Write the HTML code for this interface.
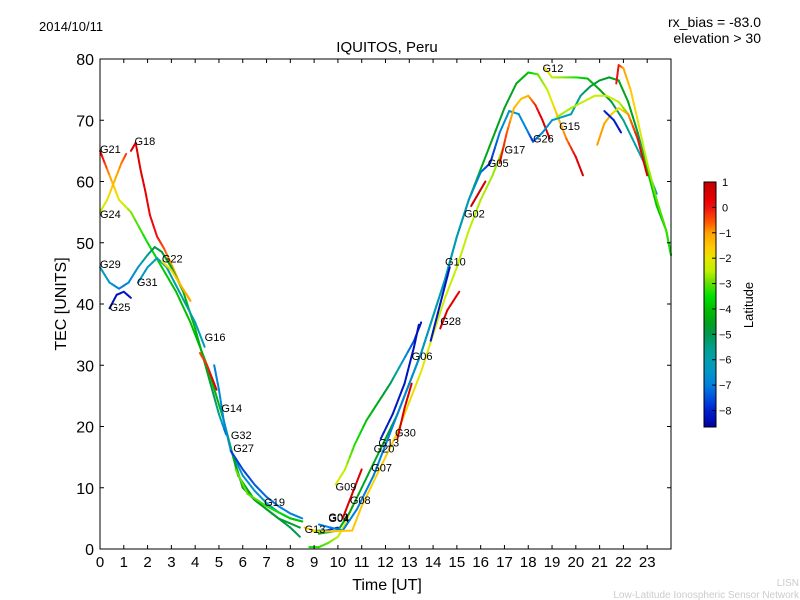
<!DOCTYPE html>
<html><head><meta charset="utf-8"><style>
body{margin:0;background:#fff;}
svg{display:block;font-family:"Liberation Sans","DejaVu Sans",sans-serif;}
</style></head><body>
<svg id="chart" width="800" height="600" viewBox="0 0 800 600" xmlns="http://www.w3.org/2000/svg">
<rect width="800" height="600" fill="#fff"/>
<text x="39" y="31" font-size="13">2014/10/11</text>
<text x="761" y="27" font-size="14" text-anchor="end">rx_bias = -83.0</text>
<text x="761" y="43" font-size="14" text-anchor="end">elevation &gt; 30</text>
<text x="387" y="52" font-size="15" text-anchor="middle">IQUITOS, Peru</text>
<g id="tracks"></g>
<g id="labels"></g>
<rect x="100" y="59" width="571" height="490" fill="none" stroke="#000" stroke-width="1"/>
<g id="axes"></g>
<text x="387" y="590" font-size="16" text-anchor="middle">Time [UT]</text>
<text transform="translate(66,304) rotate(-90)" font-size="16" text-anchor="middle">TEC [UNITS]</text>
<defs><linearGradient id="jet" x1="0" y1="0" x2="0" y2="1"></linearGradient></defs>
<rect x="704" y="182" width="12" height="245" fill="url(#jet)" stroke="#000" stroke-width="1"/>
<g id="cbticks"></g>
<text transform="translate(753,305) rotate(-90)" font-size="13" text-anchor="middle">Latitude</text>
<text x="799" y="586" font-size="10" fill="#ccc" text-anchor="end">LISN</text>
<text x="799" y="598" font-size="10" fill="#ccc" text-anchor="end">Low-Latitude Ionospheric Sensor Network</text>
</svg>
<script>
const xTicks=[0,1,2,3,4,5,6,7,8,9,10,11,12,13,14,15,16,17,18,19,20,21,22,23];
const yTicks=[0,10,20,30,40,50,60,70,80];
const cbTicks=[1,0,-1,-2,-3,-4,-5,-6,-7,-8];
const latMin=-8.65, latMax=1;
// tracks: times, tec values, latitudes
const tr1T=[0,0.4,0.8,1.3,2,2.6,3.2,3.8,4.5,5.2,5.8,6.5,7.5,8.4];
const tr1V=[65,61,57,55,50,46,42,37,30,21,12,8,5,3.5];
const tr1L=[0.5,-1,-2,-2.8,-3.5,-3.8,-4,-4,-4.2,-4.3,-4.4,-4.5,-4.6,-4.7];
const tr2T=[0,0.3,0.6,0.9,1.1];
const tr2V=[55,57,60,63,64.5];
const tr2L=[-2.6,-2,-1.3,-0.8,-0.3];
const tr3T=[1.3,1.5,1.7,1.9,2.1,2.4,2.7,3.0,3.4,3.8];
const tr3V=[65,66.3,62,58.5,54.5,51,49,46.5,43,40.6];
const tr3L=[0.5,0.5,0.4,0.3,0.2,0,-0.5,-1,-1.3,-1.5];
const tr4T=[0,0.4,0.8,1.2,1.6,2,2.3,2.6,3,3.5,4,4.5,5,5.3];
const tr4V=[46,43.5,42.5,43.5,46,48,49.3,48.5,46,42,36,29,22,18.7];
const tr4L=[-6,-6.5,-7,-7,-6.5,-5.5,-5,-4.8,-4.5,-4.3,-4.2,-4.5,-5.5,-7.5];
const tr5T=[0.4,0.7,1.0,1.3];
const tr5V=[39.3,41.5,42,41];
const tr5L=[-8.3,-8.3,-8.2,-8.2];
const tr6T=[1.6,2,2.4,2.8,3.2,3.6,4.0,4.4];
const tr6V=[43.5,46,47.5,46,43,40,37,33];
const tr6L=[-6.5,-6.3,-6,-6,-5.8,-5.8,-6,-6.2];
const tr7T=[2.6,3,3.4,3.8];
const tr7V=[47,45.5,43,40.5];
const tr7L=[-2,-1.8,-1.3,-1];
const tr8T=[4.2,4.5,4.7,4.9];
const tr8V=[32,30,28,26];
const tr8L=[-0.5,-0.2,0.2,0.5];
const tr9T=[4.8,5,5.2,5.5,6,6.5,7,7.5,8,8.5];
const tr9V=[30,26,21,16,12,9.5,7.5,6,5,4.5];
const tr9L=[-7,-6.8,-6.8,-6.6,-6.6,-6.5,-6.5,-6.5,-6.5,-6.5];
const tr10T=[5.5,6,6.5,7,7.5,8,8.5];
const tr10V=[16,13,10.5,8.5,7,5.8,5];
const tr10L=[-7.8,-7.6,-7.4,-7.2,-7,-7,-7];
const tr11T=[5.6,6,6.5,7,7.5,8,8.4];
const tr11V=[15,10,8,6.5,5,3.5,2];
const tr11L=[-4.5,-4.5,-4.6,-4.7,-4.8,-5,-5];
const tr12T=[5.7,6.2,7,7.5,8,8.5];
const tr12V=[13,9,7,6,5,4.5];
const tr12L=[-3,-3,-3.2,-3.5,-3.8,-4];
const tr13T=[8.6,9,9.5,10];
const tr13V=[3.5,3,3,3.5];
const tr13L=[-1.5,-1.5,-7.5,-8];
const tr14T=[8.8,9.2,9.6,10,10.3,10.6];
const tr14V=[0.3,0.3,1,2,4,7];
const tr14L=[-3.5,-3.3,-3,-2.5,-2,-1.8];
const tr15T=[9.9,10.3,10.7,11.2,11.7,12.2,12.7,13.2,13.5];
const tr15V=[10.5,13,17,21,24,27,30.5,34,37];
const tr15L=[-2,-2.5,-3.3,-4,-4.5,-5,-6.5,-7.5,-8.3];
const tr16T=[10.2,10.6,11];
const tr16V=[5,9,13];
const tr16L=[0.5,0.5,0.5];
const tr17T=[9.2,10,10.5,11,11.5,12,12.5,13,13.5,14,14.5,15,15.5,16,16.5,17,17.5,18,18.4,18.8,19.2,19.6,20,20.3];
const tr17V=[2.5,3,6,10,14,18,22,27,32,38,44,51,57,62,67,72,76,77.8,77.5,75,71,67,64,61];
const tr17L=[-4.5,-4.5,-4.5,-4.5,-4.5,-4.5,-4.5,-4.5,-4.5,-4.5,-4.3,-4.2,-4.2,-4.3,-4.5,-4.6,-4.5,-4,-3,-2.5,-1.5,-0.8,0.2,0.7];
const tr18T=[9.2,10.2,10.8,11.5,12,12.5,13,13.5,14,14.5,15,15.5,16,16.4,16.8,17.2,17.6,18,18.2];
const tr18V=[4,3,6.5,12,17,22,27,32,38,44,51,57,61.5,63,68,71.5,71,68,66.5];
const tr18L=[-7,-7,-7,-7,-7,-7,-6.8,-6.5,-6.3,-6.3,-6.3,-6.4,-7,-8,-7,-6.5,-6.6,-7,-8];
const tr19T=[9,10.6,11,11.5,12,12.5,13,13.5,14,14.5,15,15.5,16,16.5,17];
const tr19V=[2.8,3,7,11,15,19,24,29,35,41,46,52,57,61,66];
const tr19L=[-1.5,-1.5,-1.5,-1.7,-1.6,-1.5,-1.8,-2,-2.2,-2.3,-2.5,-2.5,-2.6,-2.7,-2.8];
const tr20T=[12.5,12.8,13.1];
const tr20V=[18,23,27];
const tr20L=[0.6,0.6,0.6];
const tr21T=[14.3,14.6,15.1];
const tr21V=[36,39,42];
const tr21L=[0.7,0.5,0.3];
const tr22T=[11.8,12.3,12.8,13.2,13.4];
const tr22V=[18,22,27,33,36.6];
const tr22L=[-8,-8.2,-8.2,-8.3,-8.3];
const tr23T=[13.9,14.3,14.7];
const tr23V=[34,40,46];
const tr23L=[-8.2,-8.2,-8.3];
const tr24T=[15.6,15.9,16.2];
const tr24V=[56,58,60];
const tr24L=[0.8,0.8,0.8];
const tr25T=[16.8,17.1,17.4,17.7,18,18.3,18.6,18.9];
const tr25V=[63,68,72,73.5,74,72.5,70,67];
const tr25L=[0.2,-0.5,-1.3,-1.5,-1.2,-0.2,0.5,0.6];
const tr26T=[18.2,18.6,19,19.4,19.8,20.2,20.6,21,21.4,21.8,22.2,22.6,23,23.3];
const tr26V=[66.5,68,70,70.5,71,74,75.5,76.5,77,76.5,73,68,62,58];
const tr26L=[-7.5,-6.8,-6.5,-6.3,-6,-5.5,-5,-4.8,-4.6,-4.5,-4.5,-5,-5.5,-5.8];
const tr27T=[18.7,19,19.5,20,20.5,21,21.5,22,22.5,23,23.4];
const tr27V=[78.5,77,77,77,76.8,75,73,70,66,62,58];
const tr27L=[-1.5,-2.5,-2.8,-3.3,-4,-4.5,-5,-5.5,-5.8,-6,-6];
const tr28T=[19.2,19.8,20.3,20.8,21.3,21.8,22.2,22.6,23,23.4,23.8,24];
const tr28V=[70.5,72,73,74,74,73,71,67,62,56,52,48];
const tr28L=[-2.7,-2.6,-2.5,-2.4,-2.3,-2.5,-3,-3.5,-3.8,-4,-4,-4.2];
const tr29T=[21.7,21.8,22,22.3,22.6,23,23.4,23.8,24];
const tr29V=[76,79,78.5,75,70,63,57,52,48];
const tr29L=[0,0,-1,-1.5,-2,-2.5,-3,-3.2,-3.5];
const tr30T=[20.9,21.2,21.5,21.8,22.2,22.6,23];
const tr30V=[66,69.5,71,72,71,67,61];
const tr30L=[-1,-1,-1.5,-2,-1,0,0.5];
const tr31T=[21.2,21.6,21.9];
const tr31V=[71.5,70,68];
const tr31L=[-8,-8,-8.2];
const labNames=["G21","G18","G24","G29","G25","G31","G22","G16","G14","G32","G27","G19","G13","G01","G04","G09","G08","G07","G20","G13","G30","G06","G28","G10","G02","G05","G17","G26","G12","G15"];
const labT=[0,1.45,0,0,0.4,1.55,2.6,4.4,5.1,5.5,5.6,6.9,8.6,9.6,9.6,9.9,10.5,11.4,11.5,11.7,12.4,13.1,14.3,14.5,15.3,16.3,17,18.2,18.6,19.3];
const labV=[65.3,66.6,54.7,46.5,39.5,43.6,47.4,34.6,23,18.6,16.5,7.7,3.3,5.2,5.1,10.2,8,13.3,16.4,17.4,19,31.5,37.2,46.9,54.8,63,65.2,67,78.5,69.1];

const cmapLat=[1,0.3,0,-0.6,-1,-1.6,-2,-2.5,-3,-3.5,-4,-4.6,-5,-5.5,-6,-6.5,-7,-7.5,-8,-8.65];
const cmapCol=["#c00000","#e80000","#f01010","#ff5a00","#ffa000","#ffcc00","#e6e600","#c0f000","#60e000","#00e000","#00c000","#00a020","#009850","#00a088","#00a0b0","#0096c8","#0080e0","#0050e0","#0020d0","#0000a0"];

const NS="http://www.w3.org/2000/svg";
const X0=100,X1=671,Y0=549,Y1=59;
function xs(t){return X0+t*(X1-X0)/24;}
function ys(v){return Y0-v*(Y0-Y1)/80;}
function cy(l){return 182+(latMax-l)*(427-182)/(latMax-latMin);}
function hex(h){return [parseInt(h.substr(1,2),16),parseInt(h.substr(3,2),16),parseInt(h.substr(5,2),16)];}
function jet(l){
  if(l>=cmapLat[0])return cmapCol[0];
  for(let i=0;i<cmapLat.length-1;i++){
    if(l<=cmapLat[i]&&l>=cmapLat[i+1]){
      const f=(cmapLat[i]-l)/(cmapLat[i]-cmapLat[i+1]);
      const a=hex(cmapCol[i]),b=hex(cmapCol[i+1]);
      return `rgb(${Math.round(a[0]+(b[0]-a[0])*f)},${Math.round(a[1]+(b[1]-a[1])*f)},${Math.round(a[2]+(b[2]-a[2])*f)})`;
    }
  }
  return cmapCol[cmapCol.length-1];
}
const grad=document.getElementById('jet');
cmapLat.forEach((l,i)=>{
  const s=document.createElementNS(NS,'stop');
  s.setAttribute('offset',((latMax-l)/(latMax-latMin)).toFixed(4));
  s.setAttribute('stop-color',cmapCol[i]);
  grad.appendChild(s);
});
const tracks=[[tr1T,tr1V,tr1L],[tr2T,tr2V,tr2L],[tr3T,tr3V,tr3L],[tr4T,tr4V,tr4L],[tr5T,tr5V,tr5L],[tr6T,tr6V,tr6L],[tr7T,tr7V,tr7L],[tr8T,tr8V,tr8L],[tr9T,tr9V,tr9L],[tr10T,tr10V,tr10L],[tr11T,tr11V,tr11L],[tr12T,tr12V,tr12L],[tr13T,tr13V,tr13L],[tr14T,tr14V,tr14L],[tr15T,tr15V,tr15L],[tr16T,tr16V,tr16L],[tr17T,tr17V,tr17L],[tr18T,tr18V,tr18L],[tr19T,tr19V,tr19L],[tr20T,tr20V,tr20L],[tr21T,tr21V,tr21L],[tr22T,tr22V,tr22L],[tr23T,tr23V,tr23L],[tr24T,tr24V,tr24L],[tr25T,tr25V,tr25L],[tr26T,tr26V,tr26L],[tr27T,tr27V,tr27L],[tr28T,tr28V,tr28L],[tr29T,tr29V,tr29L],[tr30T,tr30V,tr30L],[tr31T,tr31V,tr31L]];
const g=document.getElementById('tracks');
tracks.forEach((tr,k)=>{
  const [T,V,L]=tr;
  for(let i=0;i<T.length-1;i++){
    const n=4;
    for(let j=0;j<n;j++){
      const a=j/n,b=(j+1)/n;
      const ln=document.createElementNS(NS,'line');
      
      
      ln.setAttribute('x1',xs(T[i]+(T[i+1]-T[i])*a));
      ln.setAttribute('y1',ys(V[i]+(V[i+1]-V[i])*a));
      ln.setAttribute('x2',xs(T[i]+(T[i+1]-T[i])*b));
      ln.setAttribute('y2',ys(V[i]+(V[i+1]-V[i])*b));
      ln.setAttribute('stroke',jet(L[i]+(L[i+1]-L[i])*(a+b)/2));
      ln.setAttribute('stroke-width','2');
      ln.setAttribute('stroke-linecap','round');
      g.appendChild(ln);
    }
  }
});
const lg=document.getElementById('labels');
labNames.forEach((n,i)=>{
  const t=document.createElementNS(NS,'text');
  
  
  t.setAttribute('x',xs(labT[i]));
  t.setAttribute('y',ys(labV[i])+4);
  t.setAttribute('font-size','11');
  t.textContent=n;
  lg.appendChild(t);
});
const ax=document.getElementById('axes');
function mk(tag,attrs,txt){const e=document.createElementNS(NS,tag);for(const k in attrs)e.setAttribute(k,attrs[k]);if(txt!==undefined)e.textContent=txt;ax.appendChild(e);return e;}
xTicks.forEach(t=>{
  const x=xs(t);
  const a=mk('line',{x1:x,y1:Y0,x2:x,y2:Y0-4,stroke:'#000'});
  
  
  const b=mk('line',{x1:x,y1:Y1,x2:x,y2:Y1+4,stroke:'#000'});
  
  
  const l=mk('text',{x:x,y:Y0+18,'font-size':'15','text-anchor':'middle'},String(t));
  
  
});
yTicks.forEach(v=>{
  const y=ys(v);
  const a=mk('line',{x1:X0,y1:y,x2:X0+4,y2:y,stroke:'#000'});
  
  
  const b=mk('line',{x1:X1,y1:y,x2:X1-4,y2:y,stroke:'#000'});
  
  
  const l=mk('text',{x:X0-6,y:y+6,'font-size':'16','text-anchor':'end'},String(v));
  
  
});
const cb=document.getElementById('cbticks');
cbTicks.forEach(v=>{
  const y=cy(v);
  const a=document.createElementNS(NS,'line');
  
  
  a.setAttribute('x1',712);a.setAttribute('x2',716);a.setAttribute('y1',y);a.setAttribute('y2',y);a.setAttribute('stroke','#000');
  cb.appendChild(a);
  const t=document.createElementNS(NS,'text');
  
  
  t.setAttribute('x',v<0?719:722);t.setAttribute('y',y+4);t.setAttribute('font-size','11');
  t.textContent=v<0?'\u2212'+Math.abs(v):String(v);
  cb.appendChild(t);
});
</script>
</body></html>
